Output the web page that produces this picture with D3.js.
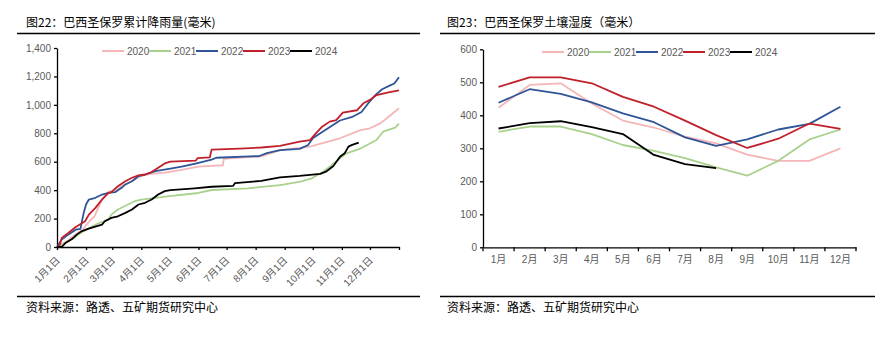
<!DOCTYPE html>
<html><head><meta charset="utf-8">
<script src="https://cdn.jsdelivr.net/npm/d3@7"></script>
<style>
body{margin:0;background:#fff;}
svg{display:block;}
.tk text{font-family:"Liberation Sans Narrow","Arial Narrow","Liberation Sans","Noto Sans CJK SC",sans-serif;font-size:10px;fill:#595959;}
.ttl{font-family:"Noto Sans CJK SC","Liberation Sans",sans-serif;font-size:12px;fill:#000;}
.lg{font-family:"Liberation Sans Narrow","Arial Narrow","Liberation Sans",sans-serif;font-size:10px;fill:#595959;}
</style></head><body>
<svg id="c" width="894" height="340"></svg>
<script>
// ---------- DATA ----------
const years = ["2020","2021","2022","2023","2024"];
const colors = ["#F4B6B8","#A9D18E","#2F5597","#C0202A","#000000"];

// Chart 22: cumulative rainfall, [day of year, mm]
const rain2020 = [[0,0],[6,25],[12,47],[20,90],[27,120],[33,169],[40,216],[44,275],[48,334],[55,390],[62,398],[69,428],[80,463],[90,500],[100,515],[115,523],[133,542],[151,565],[177,575],[178,620],[200,630],[217,636],[238,682],[270,706],[295,752],[302,765],[323,820],[334,835],[345,870],[355,922],[365,976]];
const rain2021 = [[0,0],[9,28],[18,64],[28,110],[35,134],[38,146],[45,169],[55,193],[58,228],[65,264],[72,287],[83,322],[90,334],[105,346],[120,358],[151,380],[165,401],[204,413],[238,436],[260,460],[272,483],[284,530],[291,565],[302,624],[309,659],[323,690],[341,753],[348,811],[361,840],[365,868]];
const rain2022 = [[0,0],[5,52],[12,87],[20,122],[25,127],[27,193],[28.5,240],[31,299],[34,334],[41,346],[48,369],[55,381],[62,386],[69,416],[73,440],[80,463],[87,499],[94,510],[105,534],[121,551],[133,565],[149,589],[165,615],[170,628],[216,640],[224,660],[238,682],[259,690],[268,718],[273,765],[281,800],[288,830],[302,890],[315,915],[325,950],[332,1010],[340,1070],[347,1110],[355,1135],[360,1150],[365,1194]];
const rain2023 = [[0,0],[3,16],[5,64],[12,99],[20,141],[27,169],[30,181],[34,228],[41,275],[48,334],[55,381],[58,386],[65,428],[73,463],[80,487],[87,504],[94,510],[101,527],[108,558],[115,588],[121,600],[148,607],[150,625],[163,630],[165,685],[195,692],[218,700],[238,711],[259,741],[270,752],[277,805],[283,846],[291,882],[298,893],[305,945],[320,962],[327,1011],[334,1035],[341,1069],[355,1090],[365,1102]];
const rain2024 = [[0,0],[5,0],[9,28],[16,56],[21,87],[26,110],[33,127],[40,141],[48,158],[51,181],[58,205],[65,216],[73,240],[80,264],[87,299],[94,311],[101,334],[108,369],[115,393],[121,400],[147,413],[165,424],[188,430],[190,450],[218,465],[238,490],[259,500],[281,514],[287,530],[295,570],[302,635],[307,659],[311,706],[315,718],[322,734]];
const rainTickDays = [0,31,59,90,120,151,181,212,243,273,304,334,365];
const rainTickLabels = ["1月1日","2月1日","3月1日","4月1日","5月1日","6月1日","7月1日","8月1日","9月1日","10月1日","11月1日","12月1日",""];
const rainYTicks = [0,200,400,600,800,1000,1200,1400];

// Chart 23: soil moisture, monthly mm
const months = ["1月","2月","3月","4月","5月","6月","7月","8月","9月","10月","11月","12月"];
const soil2020 = [423,492,497,436,384,363,335,315,281,262,262,300];
const soil2021 = [350,366,366,343,310,292,270,242,217,262,327,357];
const soil2022 = [438,479,465,439,406,379,333,307,327,357,374,426];
const soil2023 = [486,515,515,497,456,426,384,340,301,329,375,359];
const soil2024 = [360,376,382,364,343,280,252,240];
const soilYTicks = [0,100,200,300,400,500,600];

// ---------- DRAW ----------
const svg = d3.select("#c");

function frame(x0, x1, tx, title){
  svg.append("line").attr("x1",x0).attr("x2",x1).attr("y1",33.5).attr("y2",33.5).attr("stroke","#000").attr("stroke-width",1.3);
  svg.append("line").attr("x1",x0).attr("x2",x1).attr("y1",296.5).attr("y2",296.5).attr("stroke","#000").attr("stroke-width",1.3);
  svg.append("text").attr("class","ttl").attr("x",tx).attr("y",27).text(title);
  svg.append("text").attr("class","ttl").attr("x",tx).attr("y",312).text("资料来源：路透、五矿期货研究中心");
}
function legend(x0, y){
  const g = svg.append("g");
  years.forEach((yr,i)=>{
    const lx = x0 + i*47;
    g.append("line").attr("x1",lx).attr("x2",lx+22).attr("y1",y).attr("y2",y).attr("stroke",colors[i]).attr("stroke-width",2);
    g.append("text").attr("class","lg").attr("x",lx+25).attr("y",y+3.5).text(yr);
  });
}

// Left chart
frame(17, 420, 26, "图22：巴西圣保罗累计降雨量(毫米)");
const xL = d3.scaleLinear().domain([0,365]).range([57,399]);
const yL = d3.scaleLinear().domain([0,1400]).range([247,48]);
const gyL = svg.append("g").attr("class","tk").attr("transform","translate(57,0)")
  .call(d3.axisLeft(yL).tickValues(rainYTicks).tickFormat(d3.format(",")).tickSize(3).tickSizeOuter(0).tickPadding(3));
const gxL = svg.append("g").attr("class","tk").attr("transform","translate(0,247)")
  .call(d3.axisBottom(xL).tickValues(rainTickDays).tickFormat((d,i)=>rainTickLabels[i]).tickSize(3).tickSizeOuter(0));
gxL.selectAll("text").attr("text-anchor","end").attr("dy",null).attr("y",null)
  .attr("transform","translate(3,14) rotate(-45)");
[gyL,gxL].forEach(g=>{g.selectAll("path,line").attr("stroke","#000").attr("stroke-width",1.3);});
const lineL = d3.line().x(d=>xL(d[0])).y(d=>yL(d[1]));
[rain2020,rain2021,rain2022,rain2023,rain2024].forEach((s,i)=>{
  svg.append("path").attr("d",lineL(s)).attr("fill","none").attr("stroke",colors[i]).attr("stroke-width",1.8).attr("stroke-linejoin","round");
});
legend(102, 51);

// Right chart
frame(440, 875, 447, "图23：巴西圣保罗土壤湿度（毫米）");
const xR = d3.scaleBand().domain(months).range([483,856]).padding(0);
const yR = d3.scaleLinear().domain([0,600]).range([247.3,49.3]);
const gyR = svg.append("g").attr("class","tk").attr("transform","translate(483,0)")
  .call(d3.axisLeft(yR).tickValues(soilYTicks).tickSize(3).tickSizeOuter(0).tickPadding(3));
const gxR = svg.append("g").attr("class","tk").attr("transform","translate(0,247.3)")
  .call(d3.axisBottom(xR).tickSize(0).tickSizeOuter(0).tickPadding(9));
gxR.selectAll(".tick").each(function(d){
  d3.select(this).append("line").attr("x1",-xR.bandwidth()/2).attr("x2",-xR.bandwidth()/2).attr("y1",0).attr("y2",4);
});
gxR.append("line").attr("x1",xR.range()[1]).attr("x2",xR.range()[1]).attr("y1",0).attr("y2",4);
[gyR,gxR].forEach(g=>{g.selectAll("path,line").attr("stroke","#000").attr("stroke-width",1.3);});
const lineR = d3.line().x((d,i)=>xR(months[i])+xR.bandwidth()/2).y(d=>yR(d));
[soil2020,soil2021,soil2022,soil2023,soil2024].forEach((s,i)=>{
  svg.append("path").attr("d",lineR(s)).attr("fill","none").attr("stroke",colors[i]).attr("stroke-width",1.8).attr("stroke-linejoin","round");
});
legend(542, 52);
</script>
</body></html>
